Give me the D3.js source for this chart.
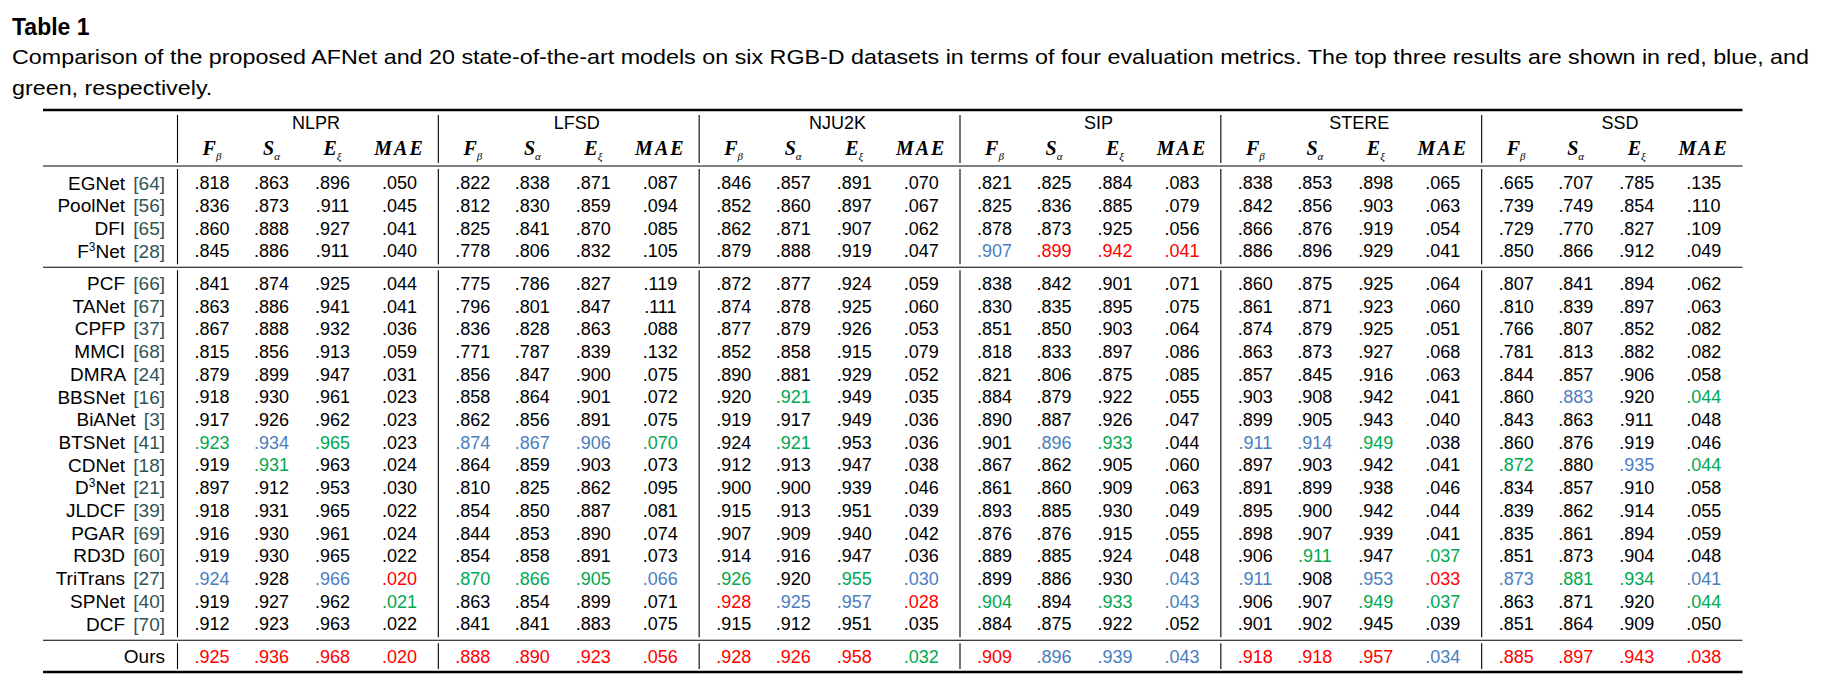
<!DOCTYPE html>
<html><head><meta charset="utf-8">
<script src="https://cdn.jsdelivr.net/npm/d3@7"></script>
<style>body{margin:0;background:#fff}svg{display:block}</style>
</head><body><svg id="c" width="1822" height="679"></svg>
<script>
// ---------------- DATA ----------------
const title = "Table 1";
const captionLines = [
  "Comparison of the proposed AFNet and 20 state-of-the-art models on six RGB-D datasets in terms of four evaluation metrics. The top three results are shown in red, blue, and",
  "green, respectively."
];
const datasets = ["NLPR", "LFSD", "NJU2K", "SIP", "STERE", "SSD"];
const metrics = ["F", "S", "E", "MAE"];
const metricSubs = ["β", "α", "ξ", ""];
const models = ["EGNet", "PoolNet", "DFI", "F3Net", "PCF", "TANet", "CPFP", "MMCI", "DMRA", "BBSNet", "BiANet",
  "BTSNet", "CDNet", "D3Net", "JLDCF", "PGAR", "RD3D", "TriTrans", "SPNet", "DCF", "Ours"];
const citations = ["64", "56", "65", "28", "66", "67", "37", "68", "24", "16", "3", "41", "18", "21", "39", "69", "60", "27", "40", "70", ""];
const rowGroup = [0,0,0,0, 1,1,1,1,1,1,1,1,1,1,1,1,1,1,1,1, 2];

const NLPR = [
  [.818,.863,.896,.050],[.836,.873,.911,.045],[.860,.888,.927,.041],[.845,.886,.911,.040],
  [.841,.874,.925,.044],[.863,.886,.941,.041],[.867,.888,.932,.036],[.815,.856,.913,.059],
  [.879,.899,.947,.031],[.918,.930,.961,.023],[.917,.926,.962,.023],[.923,.934,.965,.023],
  [.919,.931,.963,.024],[.897,.912,.953,.030],[.918,.931,.965,.022],[.916,.930,.961,.024],
  [.919,.930,.965,.022],[.924,.928,.966,.020],[.919,.927,.962,.021],[.912,.923,.963,.022],
  [.925,.936,.968,.020]];
const LFSD = [
  [.822,.838,.871,.087],[.812,.830,.859,.094],[.825,.841,.870,.085],[.778,.806,.832,.105],
  [.775,.786,.827,.119],[.796,.801,.847,.111],[.836,.828,.863,.088],[.771,.787,.839,.132],
  [.856,.847,.900,.075],[.858,.864,.901,.072],[.862,.856,.891,.075],[.874,.867,.906,.070],
  [.864,.859,.903,.073],[.810,.825,.862,.095],[.854,.850,.887,.081],[.844,.853,.890,.074],
  [.854,.858,.891,.073],[.870,.866,.905,.066],[.863,.854,.899,.071],[.841,.841,.883,.075],
  [.888,.890,.923,.056]];
const NJU2K = [
  [.846,.857,.891,.070],[.852,.860,.897,.067],[.862,.871,.907,.062],[.879,.888,.919,.047],
  [.872,.877,.924,.059],[.874,.878,.925,.060],[.877,.879,.926,.053],[.852,.858,.915,.079],
  [.890,.881,.929,.052],[.920,.921,.949,.035],[.919,.917,.949,.036],[.924,.921,.953,.036],
  [.912,.913,.947,.038],[.900,.900,.939,.046],[.915,.913,.951,.039],[.907,.909,.940,.042],
  [.914,.916,.947,.036],[.926,.920,.955,.030],[.928,.925,.957,.028],[.915,.912,.951,.035],
  [.928,.926,.958,.032]];
const SIP = [
  [.821,.825,.884,.083],[.825,.836,.885,.079],[.878,.873,.925,.056],[.907,.899,.942,.041],
  [.838,.842,.901,.071],[.830,.835,.895,.075],[.851,.850,.903,.064],[.818,.833,.897,.086],
  [.821,.806,.875,.085],[.884,.879,.922,.055],[.890,.887,.926,.047],[.901,.896,.933,.044],
  [.867,.862,.905,.060],[.861,.860,.909,.063],[.893,.885,.930,.049],[.876,.876,.915,.055],
  [.889,.885,.924,.048],[.899,.886,.930,.043],[.904,.894,.933,.043],[.884,.875,.922,.052],
  [.909,.896,.939,.043]];
const STERE = [
  [.838,.853,.898,.065],[.842,.856,.903,.063],[.866,.876,.919,.054],[.886,.896,.929,.041],
  [.860,.875,.925,.064],[.861,.871,.923,.060],[.874,.879,.925,.051],[.863,.873,.927,.068],
  [.857,.845,.916,.063],[.903,.908,.942,.041],[.899,.905,.943,.040],[.911,.914,.949,.038],
  [.897,.903,.942,.041],[.891,.899,.938,.046],[.895,.900,.942,.044],[.898,.907,.939,.041],
  [.906,.911,.947,.037],[.911,.908,.953,.033],[.906,.907,.949,.037],[.901,.902,.945,.039],
  [.918,.918,.957,.034]];
const SSD = [
  [.665,.707,.785,.135],[.739,.749,.854,.110],[.729,.770,.827,.109],[.850,.866,.912,.049],
  [.807,.841,.894,.062],[.810,.839,.897,.063],[.766,.807,.852,.082],[.781,.813,.882,.082],
  [.844,.857,.906,.058],[.860,.883,.920,.044],[.843,.863,.911,.048],[.860,.876,.919,.046],
  [.872,.880,.935,.044],[.834,.857,.910,.058],[.839,.862,.914,.055],[.835,.861,.894,.059],
  [.851,.873,.904,.048],[.873,.881,.934,.041],[.863,.871,.920,.044],[.851,.864,.909,.050],
  [.885,.897,.943,.038]];
// rank colours per cell: k = none, r = 1st, b = 2nd, g = 3rd (NLPR|LFSD|NJU2K|SIP|STERE|SSD)
const ranks = [
  "kkkk kkkk kkkk kkkk kkkk kkkk", "kkkk kkkk kkkk kkkk kkkk kkkk", "kkkk kkkk kkkk kkkk kkkk kkkk",
  "kkkk kkkk kkkk brrr kkkk kkkk",
  "kkkk kkkk kkkk kkkk kkkk kkkk", "kkkk kkkk kkkk kkkk kkkk kkkk", "kkkk kkkk kkkk kkkk kkkk kkkk",
  "kkkk kkkk kkkk kkkk kkkk kkkk", "kkkk kkkk kkkk kkkk kkkk kkkk",
  "kkkk kkkk kgkk kkkk kkkk kbkg", "kkkk kkkk kkkk kkkk kkkk kkkk",
  "gbgk bbbg kgkk kbgk bbgk kkkk", "kgkk kkkk kkkk kkkk kkkk gkbg",
  "kkkk kkkk kkkk kkkk kkkk kkkk", "kkkk kkkk kkkk kkkk kkkk kkkk", "kkkk kkkk kkkk kkkk kkkk kkkk",
  "kkkk kkkk kkkk kkkk kgkg kkkk", "bkbr gggb gkgb kkkb bkbr bggb",
  "kkkg kkkk rbbr gkgb kkgg kkkg", "kkkk kkkk kkkk kkkk kkkk kkkk",
  "rrrr rrrr rrrg rbbb rrrb rrrr"];
const dataByDataset = [NLPR, LFSD, NJU2K, SIP, STERE, SSD];

// ---------------- STYLE / LAYOUT ----------------
const rankColor = {k: "#000000", r: "#ff0000", b: "#4a7ebf", g: "#00a84f"};
const citeColor = "#2f5555";
const sansFont = "'Liberation Sans', Arial, sans-serif";
const serifFont = "'Liberation Serif', 'Times New Roman', serif";

const svg = d3.select("#c");
const tableLeft = 43, tableRight = 1742.5, labelRight = 165;

const xGroup = d3.scaleBand().domain(datasets).range([177.5, 1742.5]).paddingInner(0).paddingOuter(0);
const xInner = d3.scaleOrdinal().domain(metrics).range([34.5, 94, 155, 222]);
const colX = (ds, m) => xGroup(ds) + xInner(m);

const y = d3.scaleLinear().domain([0, 1]).range([183, 183 + 22.7]);
const groupGap = 9.7;
const rowY = i => y(i) + rowGroup[i] * groupGap;

const yTopRule = 110, yHeadRule = 166, yBottomRule = 672;
const yGroupRule1 = (rowY(3) + rowY(4)) / 2;
const yGroupRule2 = (rowY(19) + rowY(20)) / 2;
const yDatasetHead = 122, yMetricHead = 149;

// ---------------- TITLE / CAPTION ----------------
svg.append("text").attr("x", 12).attr("y", 35)
  .attr("font-family", sansFont).attr("font-weight", "bold").attr("font-size", 23)
  .attr("fill", "#000").text(title);

const capSel = svg.selectAll("text.cap").data(captionLines).join("text").attr("class", "cap")
  .attr("x", 12).attr("y", (d, i) => 64 + i * 30.5)
  .attr("font-family", sansFont).attr("font-size", 21).attr("fill", "#000").text(d => d);
const natural = capSel.nodes()[0].getComputedTextLength();
const ratio = (1809 - 12) / natural;
capSel.each(function () {
  const len = this.getComputedTextLength();
  d3.select(this).attr("textLength", len * ratio).attr("lengthAdjust", "spacingAndGlyphs");
});

// ---------------- RULES ----------------
const hRules = [
  {y: yTopRule, w: 2.4}, {y: yHeadRule, w: 1.1}, {y: yGroupRule1, w: 1.1},
  {y: yGroupRule2, w: 1.1}, {y: yBottomRule, w: 2.4}];
svg.selectAll("line.h").data(hRules).join("line").attr("class", "h")
  .attr("x1", tableLeft).attr("x2", tableRight)
  .attr("y1", d => d.y).attr("y2", d => d.y)
  .attr("stroke", "#000").attr("stroke-width", d => d.w);

const vSegments = [
  [yTopRule + 5, yHeadRule - 3],
  [yHeadRule + 3, yGroupRule1 - 3],
  [yGroupRule1 + 3, yGroupRule2 - 3],
  [yGroupRule2 + 3, yBottomRule - 3]];
const vLinesX = [labelRight + 12.5].concat(datasets.slice(1).map(d => xGroup(d)));
const vData = [];
vLinesX.forEach(x => vSegments.forEach(s => vData.push({x, y1: s[0], y2: s[1]})));
svg.selectAll("line.v").data(vData).join("line").attr("class", "v")
  .attr("x1", d => d.x).attr("x2", d => d.x).attr("y1", d => d.y1).attr("y2", d => d.y2)
  .attr("stroke", "#000").attr("stroke-width", 1.1);

// ---------------- HEADERS ----------------
svg.selectAll("text.ds").data(datasets).join("text").attr("class", "ds")
  .attr("x", d => xGroup(d) + xGroup.bandwidth() / 2 + 8).attr("y", yDatasetHead + 6.5)
  .attr("text-anchor", "middle").attr("font-family", sansFont).attr("font-size", 18)
  .attr("fill", "#000").text(d => d);

const metricCells = [];
datasets.forEach(ds => metrics.forEach((m, j) => metricCells.push({ds, m, sub: metricSubs[j]})));
const mh = svg.selectAll("text.mh").data(metricCells).join("text").attr("class", "mh")
  .attr("x", d => colX(d.ds, d.m)).attr("y", yMetricHead + 6)
  .attr("text-anchor", "middle").attr("font-family", serifFont).attr("font-style", "italic")
  .attr("font-weight", "bold").attr("font-size", 20).attr("fill", "#000");
mh.each(function (d) {
  const t = d3.select(this);
  if (d.sub) {
    t.append("tspan").text(d.m);
    t.append("tspan").attr("font-size", 11).attr("font-weight", "normal").attr("dy", 4.5).text(d.sub);
  } else {
    t.attr("letter-spacing", 2).text(d.m);
  }
});

// ---------------- ROW LABELS ----------------
const lab = svg.selectAll("text.lab").data(models).join("text").attr("class", "lab")
  .attr("x", labelRight).attr("y", (d, i) => rowY(i) + 6.5)
  .attr("text-anchor", "end").attr("font-family", sansFont).attr("font-size", 19).attr("fill", "#000")
  .attr("xml:space", "preserve");
lab.each(function (d, i) {
  const t = d3.select(this);
  const m = d.match(/^(\w)(3)(Net)$/);
  if (m) {
    t.append("tspan").text(m[1]);
    t.append("tspan").attr("font-size", 12).attr("dy", -7).text(m[2]);
    t.append("tspan").attr("dy", 7).text(m[3]);
  } else {
    t.append("tspan").text(d);
  }
  if (citations[i]) {
    t.append("tspan").attr("dx", 3).attr("fill", citeColor).text(" [" + citations[i] + "]");
  }
});

// ---------------- CELLS ----------------
const fmt = v => d3.format(".3f")(v).replace(/^0/, "");
const cells = [];
models.forEach((mod, i) => {
  const code = ranks[i].replace(/ /g, "");
  datasets.forEach((ds, k) => {
    metrics.forEach((m, j) => {
      cells.push({i, ds, m, v: dataByDataset[k][i][j], c: code[k * 4 + j]});
    });
  });
});
svg.selectAll("text.cell").data(cells).join("text").attr("class", "cell")
  .attr("x", d => colX(d.ds, d.m)).attr("y", d => rowY(d.i) + 6.3)
  .attr("text-anchor", "middle").attr("font-family", sansFont).attr("font-size", 18)
  .attr("fill", d => rankColor[d.c]).text(d => fmt(d.v));
</script>
</body></html>
